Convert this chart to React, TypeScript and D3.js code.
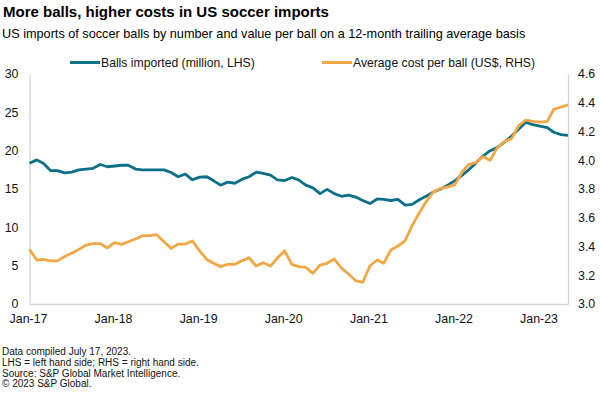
import * as d3 from "d3";
import { useEffect, useRef } from "react";

const W = 600;
const H = 393;
const dms = { top: 74, right: 32, bottom: 89, left: 29.5 };

// monthly points, Jan-17 .. May-23 (12-month trailing averages)
const firstMonth = new Date(2017, 0, 1);
const lastMonth = new Date(2023, 4, 1);
const months = d3.timeMonth.range(firstMonth, d3.timeMonth.offset(lastMonth, 1));

// balls imported, million (LHS)
const ballsImported = [
  18.35, 18.8, 18.35, 17.4, 17.4, 17.1, 17.2, 17.5, 17.6, 17.7, 18.2, 17.9,
  18.0, 18.1, 18.1, 17.6, 17.5, 17.5, 17.5, 17.5, 17.15, 16.6, 16.95, 16.2,
  16.55, 16.6, 16.1, 15.5, 15.9, 15.75, 16.25, 16.6, 17.2, 17.05, 16.8, 16.2,
  16.1, 16.5, 16.2, 15.5, 15.15, 14.4, 14.95, 14.4, 14.05, 14.2, 13.95, 13.5,
  13.1, 13.7, 13.65, 13.5, 13.65, 12.9, 13.0, 13.6, 14.1, 14.6, 15.0, 15.5,
  16.1, 16.8, 17.5, 18.4, 19.3, 20.0, 20.4, 21.1, 21.9, 22.8, 23.7, 23.4,
  23.2, 23.0, 22.4, 22.1, 22.0,
];

// average cost per ball, US$ (RHS)
const costPerBall = [
  3.38, 3.306, 3.31, 3.3, 3.3, 3.33, 3.353, 3.38, 3.41, 3.42, 3.42, 3.39,
  3.427, 3.415, 3.433, 3.452, 3.475, 3.475, 3.482, 3.433, 3.387, 3.417, 3.417, 3.438,
  3.37, 3.31, 3.283, 3.26, 3.276, 3.276, 3.3, 3.322, 3.264, 3.287, 3.264, 3.32,
  3.37, 3.276, 3.26, 3.255, 3.213, 3.27, 3.283, 3.313, 3.25, 3.209, 3.162, 3.151,
  3.266, 3.306, 3.283, 3.376, 3.403, 3.44, 3.545, 3.635, 3.716, 3.78, 3.805, 3.815,
  3.83, 3.92, 3.97, 3.985, 4.025, 4.0, 4.085, 4.13, 4.15, 4.24, 4.28, 4.27,
  4.265, 4.27, 4.355, 4.37, 4.385,
];

const leftTicks = [0, 5, 10, 15, 20, 25, 30];
const rightTicks = [3.0, 3.2, 3.4, 3.6, 3.8, 4.0, 4.2, 4.4, 4.6];
const yearTicks = [2017, 2018, 2019, 2020, 2021, 2022, 2023];

const title = "More balls, higher costs in US soccer imports";
const subtitle =
  "US imports of soccer balls by number and value per ball on a 12-month trailing average basis";
const seriesNames = ["Balls imported (million, LHS)", "Average cost per ball (US$, RHS)"];
const footnotes = [
  "Data compiled July 17, 2023.",
  "LHS = left hand side; RHS = right hand side.",
  "Source: S&P Global Market Intelligence.",
  "\u00a9 2023 S&P Global.",
];

const BLUE = "#0b6f88";
const ORANGE = "#f2a745";
const FONT = "'Liberation Sans', Arial, sans-serif";

const App = () => {
  const ref = useRef<SVGSVGElement>(null);

  useEffect(() => {
    const svg = d3.select(ref.current);
    svg.selectAll("*").remove();

    const x = d3
      .scaleTime()
      .domain([firstMonth, lastMonth])
      .range([dms.left, W - dms.right]);
    const yL = d3.scaleLinear().domain([0, 30]).range([H - dms.bottom, dms.top]);
    const yR = d3.scaleLinear().domain([3.0, 4.6]).range([H - dms.bottom, dms.top]);

    // titles
    svg
      .append("text")
      .attr("x", 3)
      .attr("y", 17)
      .attr("font-size", 15)
      .attr("font-weight", "bold")
      .attr("fill", "#000")
      .text(title);
    svg
      .append("text")
      .attr("x", 2)
      .attr("y", 38)
      .attr("font-size", 12.7)
      .attr("fill", "#000")
      .text(subtitle);

    // legend
    const legX = [70, 322];
    const colors = [BLUE, ORANGE];
    seriesNames.forEach((name, i) => {
      const g = svg.append("g").attr("transform", `translate(${legX[i]}, 62.5)`);
      g.append("line").attr("x1", 0).attr("x2", 30).attr("stroke", colors[i]).attr("stroke-width", 3);
      g.append("text").attr("x", 31).attr("y", 4.3).attr("font-size", 12.2).attr("fill", "#111").text(name);
    });

    // axes
    const axisL = d3
      .axisLeft(yL)
      .tickValues(leftTicks)
      .tickSize(0)
      .tickPadding(11)
      .tickFormat((d) => `${d}`);
    const axisR = d3
      .axisRight(yR)
      .tickValues(rightTicks)
      .tickSize(0)
      .tickPadding(10)
      .tickFormat(d3.format(".1f") as any);
    const axisB = d3
      .axisBottom(x)
      .tickValues(yearTicks.map((yr) => new Date(yr, 0, 1)))
      .tickSize(0)
      .tickPadding(10.5)
      .tickFormat(d3.timeFormat("%b-%y") as any);

    const gL = svg.append("g").attr("transform", `translate(${dms.left},0)`).call(axisL);
    const gR = svg.append("g").attr("transform", `translate(${W - dms.right},0)`).call(axisR);
    const gB = svg.append("g").attr("transform", `translate(0,${H - dms.bottom})`).call(axisB);
    [gL, gR, gB].forEach((g) => {
      g.select(".domain").attr("stroke", "#d4d4d4").attr("stroke-width", 1.3);
      g.selectAll("text").attr("font-size", 12.4).attr("font-family", FONT).attr("fill", "#111");
    });
    gB.selectAll("text").attr("dx", -1.5);

    // lines
    const lineL = d3
      .line<number>()
      .x((_, i) => x(months[i]))
      .y((d) => yL(d));
    const lineR = d3
      .line<number>()
      .x((_, i) => x(months[i]))
      .y((d) => yR(d));

    svg
      .append("path")
      .attr("d", lineL(ballsImported) ?? "")
      .attr("fill", "none")
      .attr("stroke", BLUE)
      .attr("stroke-width", 2.8)
      .attr("stroke-linejoin", "round");
    svg
      .append("path")
      .attr("d", lineR(costPerBall) ?? "")
      .attr("fill", "none")
      .attr("stroke", ORANGE)
      .attr("stroke-width", 2.8)
      .attr("stroke-linejoin", "round");

    // footer
    svg
      .append("g")
      .selectAll("text")
      .data(footnotes)
      .enter()
      .append("text")
      .attr("x", 2)
      .attr("y", (_, i) => 355 + i * 10.8)
      .attr("font-size", 10)
      .attr("fill", "#111")
      .text((d) => d);
  }, []);

  return (
    <div style={{ position: "absolute", left: 0, top: 0 }}>
      <svg
        ref={ref}
        width={W}
        height={H}
        viewBox={`0 0 ${W} ${H}`}
        style={{ display: "block", fontFamily: FONT, background: "#fff" }}
      ></svg>
    </div>
  );
};

export default App;
